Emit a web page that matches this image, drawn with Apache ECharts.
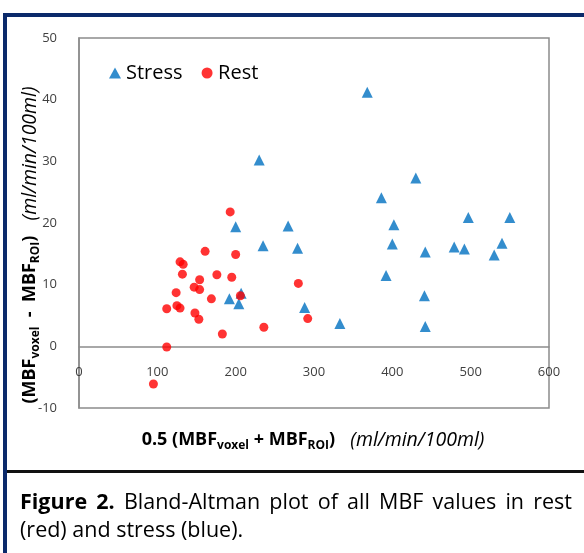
<!DOCTYPE html>
<html>
<head>
<meta charset="UTF-8">
<title>Bland-Altman MBF</title>
<style>
  * { margin: 0; padding: 0; }
  body { background: #fff; }
</style>
<script src="https://cdn.jsdelivr.net/npm/echarts@6/dist/echarts.min.js"></script>
</head>
<body>
<div id="main" style="width:584px;height:553px;"></div>
<script>
// stress (blue): mean of the two MBF values vs their difference
var stressMean = [368, 430, 386, 402, 497, 550, 400, 442, 479, 492, 540, 530, 392,
                  441, 442, 230, 200, 267, 235, 279, 192, 204, 207, 288, 333];
var stressDiff = [41.2, 27.3, 24.1, 19.7, 20.9, 20.9, 16.6, 15.3, 16.1, 15.8, 16.7, 14.8, 11.5,
                  8.2, 3.2, 30.2, 19.4, 19.5, 16.3, 15.9, 7.7, 6.9, 8.6, 6.3, 3.7];
// rest (red)
var restMean = [193, 161, 200, 129, 133, 132, 176, 154, 195, 147, 154, 124, 169,
                206, 112, 125, 129, 148, 153, 183, 112, 236, 280, 292, 95];
var restDiff = [21.8, 15.4, 14.9, 13.7, 13.3, 11.7, 11.6, 10.8, 11.2, 9.6, 9.2, 8.7, 7.7,
                8.2, 6.1, 6.6, 6.2, 5.4, 4.4, 2.0, -0.1, 3.1, 10.2, 4.5, -6.1];

var xRange = [0, 600, 100];
var yRange = [-10, 50, 10];

var captionLine1 = ['Bland-Altman', 'plot', 'of', 'all', 'MBF', 'values', 'in', 'rest'];
var captionLine2 = '(red) and stress (blue).';

var FONT = '"Open Sans", Lato, sans-serif';
var CAP = '21.5px ' + FONT;

function pairs(xs, ys) {
  return xs.map(function (x, i) { return [x, ys[i]]; });
}

// justify the first caption line like the figure does
function justified(y, x0, x1) {
  var ctx = document.createElement('canvas').getContext('2d');
  var words = [{ t: 'Figure', b: true }, { t: '2.', b: true }].concat(
    captionLine1.map(function (w) { return { t: w, b: false }; }));
  var widths = words.map(function (w) {
    ctx.font = (w.b ? 'bold ' : '') + CAP;
    return ctx.measureText(w.t).width;
  });
  var total = widths.reduce(function (a, b) { return a + b; }, 0);
  var gap = (x1 - x0 - total) / (words.length - 1);
  var x = x0, out = [];
  words.forEach(function (w, i) {
    out.push({
      type: 'text', left: x, top: y, silent: true,
      style: { text: w.t, font: (w.b ? 'bold ' : '') + CAP, fill: '#000' }
    });
    x += widths[i] + gap;
  });
  return out;
}

var rich = {
  b: { fontSize: 18, fontWeight: 'bold', fontFamily: FONT, lineHeight: 24, verticalAlign: 'middle', color: '#000' },
  s: { fontSize: 12, fontWeight: 'bold', fontFamily: FONT, lineHeight: 14, padding: [11, 0, 0, 0], verticalAlign: 'bottom', color: '#000' },
  i: { fontSize: 19.5, fontStyle: 'italic', fontFamily: FONT, lineHeight: 24, verticalAlign: 'middle', color: '#000' }
};

var myChart = echarts.init(document.getElementById('main'));

var option = {
  animation: false,
  backgroundColor: '#fff',
  grid: {
    left: 79, right: 35, top: 38, bottom: 145,
    show: true, borderColor: '#8c8c8c', borderWidth: 1.5
  },
  legend: {
    left: 104, top: 58,
    itemWidth: 12, itemHeight: 11, itemGap: 19,
    textStyle: { fontSize: 20, fontFamily: FONT, color: '#000' },
    data: ['Stress', 'Rest']
  },
  xAxis: {
    type: 'value',
    min: xRange[0], max: xRange[1], interval: xRange[2],
    // the axis sits on the zero line of the difference axis
    offset: -61.7,
    axisLine: { onZero: false, lineStyle: { color: '#8c8c8c', width: 1.5 } },
    axisTick: { show: false },
    splitLine: { show: false },
    axisLabel: { margin: 19, fontSize: 13, fontFamily: FONT, color: '#404040' }
  },
  yAxis: {
    type: 'value',
    min: yRange[0], max: yRange[1], interval: yRange[2],
    axisLine: { show: true, onZero: false, lineStyle: { color: '#8c8c8c', width: 1.5 } },
    axisTick: { show: false },
    splitLine: { show: false },
    axisLabel: { margin: 22, fontSize: 13, fontFamily: FONT, color: '#404040' }
  },
  series: [
    {
      name: 'Stress', type: 'scatter', symbol: 'triangle', symbolSize: 11,
      itemStyle: { color: '#0070c0' },
      data: pairs(stressMean, stressDiff)
    },
    {
      name: 'Rest', type: 'scatter', symbol: 'circle', symbolSize: 9,
      itemStyle: { color: '#ff0000' },
      data: pairs(restMean, restDiff)
    }
  ],
  graphic: [
    // page frame
    { type: 'rect', silent: true, shape: { x: 3, y: 13, width: 600, height: 4 }, style: { fill: '#0b2a6b' } },
    { type: 'rect', silent: true, shape: { x: 3, y: 13, width: 4, height: 560 }, style: { fill: '#0b2a6b' } },
    { type: 'rect', silent: true, shape: { x: 7, y: 470, width: 600, height: 3 }, style: { fill: '#111' } },
    // axis titles
    {
      type: 'text', x: 30, y: 245, rotation: Math.PI / 2, silent: true,
      style: {
        text: '{b|(MBF}{s|voxel}{b|  -  MBF}{s|ROI}{b|)}{i|   (ml/min/100ml)}',
        rich: rich, align: 'center', verticalAlign: 'middle'
      }
    },
    {
      type: 'text', x: 313, y: 440, silent: true,
      style: {
        text: '{b|0.5 (MBF}{s|voxel}{b| + MBF}{s|ROI}{b|)}{i|   (ml/min/100ml)}',
        rich: rich, align: 'center', verticalAlign: 'middle'
      }
    },
    {
      type: 'text', left: 20, top: 520, silent: true,
      style: { text: captionLine2, font: CAP, fill: '#000' }
    }
  ].concat(justified(492, 20, 572))
};

myChart.setOption(option);
</script>
</body>
</html>
